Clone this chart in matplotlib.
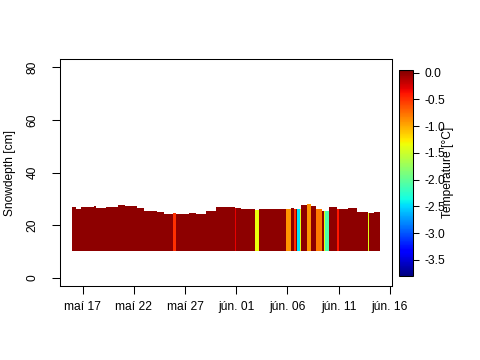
import matplotlib
matplotlib.use("Agg")
import matplotlib.pyplot as plt
import matplotlib.colors as mcolors
import matplotlib.cm as cm
import numpy as np

plt.rcParams['font.family'] = ['Liberation Sans', 'DejaVu Sans']
plt.rcParams['axes.unicode_minus'] = False
FS = 8.64  # 12 px text

# columns of the snow profile: start (days since 16 May), snow depth [cm], temperature [C]
col_start = [0.00, 0.39, 0.88, 2.14, 2.33, 3.31, 4.47, 5.16, 6.32, 7.00,
             8.27, 8.95, 9.82, 10.12, 11.38, 12.06, 13.04, 14.00, 15.86, 16.00,
             16.44, 17.80, 18.19, 20.82, 21.30, 21.60, 21.79, 21.89, 22.18, 22.28,
             22.86, 23.25, 23.83, 24.32, 24.61, 24.71, 25.10, 25.88, 26.07, 26.95,
             27.82, 28.89, 28.99, 29.47]
col_end = 30.0
col_depth = [26.8, 26.2, 26.8, 27.2, 26.6, 26.8, 27.5, 27.2, 26.4, 25.3,
             24.9, 24.3, 24.5, 24.2, 24.5, 24.2, 25.3, 26.8, 26.6, 26.4,
             26.0, 25.7, 26.0, 26.1, 26.4, 26.0, 26.0, 26.0, 26.0, 27.5,
             27.9, 27.2, 26.0, 25.3, 25.5, 25.5, 26.8, 26.0, 26.0, 26.4,
             24.9, 24.7, 24.5, 24.9]
col_temp = [0.0, 0.0, 0.0, 0.0, 0.0, 0.0, 0.0, 0.0, 0.0, 0.0,
            0.0, 0.0, -0.5, 0.0, 0.0, 0.0, 0.0, 0.0, -0.3, 0.0,
            0.0, -1.35, 0.0, -0.9, 0.0, -0.5, 0.0, -2.45, -1.4, 0.0,
            -0.9, 0.0, -0.8, 0.0, -1.4, -2.1, 0.0, -0.4, 0.0, 0.0,
            0.0, -1.4, 0.0, 0.0]
sensor_bottom = 10.0

tick_days = [1, 6, 11, 16, 21, 26, 31]
tick_labels = ["maí 17", "maí 22", "maí 27", "jún. 01", "jún. 06", "jún. 11", "jún. 16"]
y_ticks = [0, 20, 40, 60, 80]
cb_ticks = [0.0, -0.5, -1.0, -1.5, -2.0, -2.5, -3.0, -3.5]

fig = plt.figure(figsize=(4.8, 3.6), dpi=100)
ax = fig.add_axes([60/480, 1-286/360, 332/480, 227/360])

norm = mcolors.Normalize(vmin=-3.8, vmax=0.05)
cmap = plt.get_cmap('jet')

starts = np.array(col_start)
widths = np.diff(np.append(starts, col_end))
heights = np.array(col_depth) - sensor_bottom
ax.bar(starts, heights, width=widths, bottom=sensor_bottom, align='edge',
       color=cmap(norm(np.array(col_temp))), linewidth=0, antialiased=False)

ax.set_xlim(-1.2, 31.2)
ax.set_ylim(-3.2, 83.2)
ax.set_xticks(tick_days)
ax.set_xticklabels(tick_labels)
ax.set_yticks(y_ticks)
for sp in ax.spines.values():
    sp.set_linewidth(0.75)
ax.tick_params(direction='out', length=5.5, width=0.75, labelsize=FS)
ax.tick_params(axis='x', pad=5)
ax.tick_params(axis='y', pad=10)
for lab in ax.get_yticklabels():
    lab.set_rotation(90)
    lab.set_va('center')
fig.text(10/480, 1-172.5/360, "Snowdepth [cm]", rotation=90, ha='center', va='center', fontsize=FS)

cax = fig.add_axes([399/480, 1-276/360, 14/480, 206/360])
cb = fig.colorbar(cm.ScalarMappable(norm=norm, cmap=cmap), cax=cax)
cb.set_ticks(cb_ticks)
cb.set_ticklabels(["%.1f" % v for v in cb_ticks])
cb.outline.set_linewidth(0.75)
cax.tick_params(direction='out', length=4.5, width=0.75, labelsize=FS, pad=4)
fig.text(448/480, 1-172/360, "Temperature [°C]", rotation=90, ha='center', va='center', fontsize=FS)

fig.savefig("out.png", dpi=100)
